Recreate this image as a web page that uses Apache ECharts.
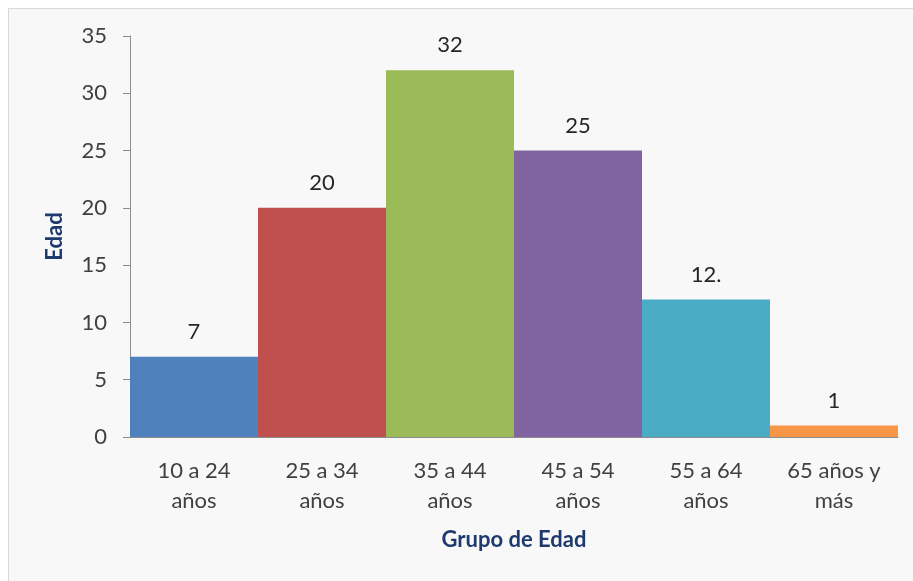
<!DOCTYPE html>
<html>
<head>
<meta charset="utf-8">
<script src="https://cdn.jsdelivr.net/npm/echarts@6/dist/echarts.min.js"></script>
<style>
  html, body { margin: 0; padding: 0; background: #ffffff; }
  #chart { width: 913px; height: 581px; }
</style>
</head>
<body>
<div id="chart"></div>
<script>
// Age groups and counts
const categories = ['10 a 24\naños', '25 a 34\naños', '35 a 44\naños', '45 a 54\naños', '55 a 64\naños', '65 años y\nmás'];
const values = [7, 20, 32, 25, 12, 1];
const valueLabels = ['7', '20', '32', '25', '12.', '1'];
const barColors = ['#4f81bd', '#c0504d', '#9bbb59', '#8064a2', '#4bacc6', '#f79646'];
const yTicks = { min: 0, max: 35, interval: 5 };

const font = 'Lato, "Open Sans", "Liberation Sans", sans-serif';
const chart = echarts.init(document.getElementById('chart'), null, { renderer: 'canvas' });

chart.setOption({
  backgroundColor: '#ffffff',
  animation: false,
  graphic: [{
    // chart area panel; runs past the right and bottom edges of the canvas
    type: 'rect',
    z: -10,
    shape: { x: 8.5, y: 8.5, width: 912, height: 580 },
    style: { fill: '#f8f8f8', stroke: '#d9d9d9', lineWidth: 1 }
  }],
  grid: { left: 130, right: 15, top: 36, bottom: 144, outerBoundsMode: 'none', containLabel: false },
  xAxis: {
    type: 'category',
    data: categories,
    name: 'Grupo de Edad',
    nameLocation: 'middle',
    nameGap: 92,
    nameTextStyle: { fontFamily: font, fontSize: 22, fontWeight: 'bold', color: '#1f3a6e' },
    axisLine: { show: true, lineStyle: { color: '#8c8c8c', width: 1 } },
    axisTick: { show: false },
    axisLabel: { margin: 19, fontFamily: font, fontSize: 22, color: '#404040', lineHeight: 30 }
  },
  yAxis: {
    type: 'value',
    min: yTicks.min,
    max: yTicks.max,
    interval: yTicks.interval,
    name: 'Edad',
    nameLocation: 'middle',
    nameGap: 64,
    nameTextStyle: { fontFamily: font, fontSize: 22, fontWeight: 'bold', color: '#1f3a6e' },
    axisLine: { show: true, lineStyle: { color: '#8c8c8c', width: 1 } },
    axisTick: { show: true, inside: false, length: 7, lineStyle: { color: '#8c8c8c' } },
    axisLabel: { margin: 23, fontFamily: font, fontSize: 22, color: '#404040' },
    splitLine: { show: false }
  },
  series: [{
    type: 'bar',
    barCategoryGap: '0%',
    data: values.map((v, i) => ({ value: v, itemStyle: { color: barColors[i] } })),
    label: {
      show: true,
      position: 'top',
      distance: 14,
      fontFamily: font,
      fontSize: 22,
      color: '#262626',
      formatter: p => valueLabels[p.dataIndex]
    }
  }]
});
</script>
</body>
</html>
